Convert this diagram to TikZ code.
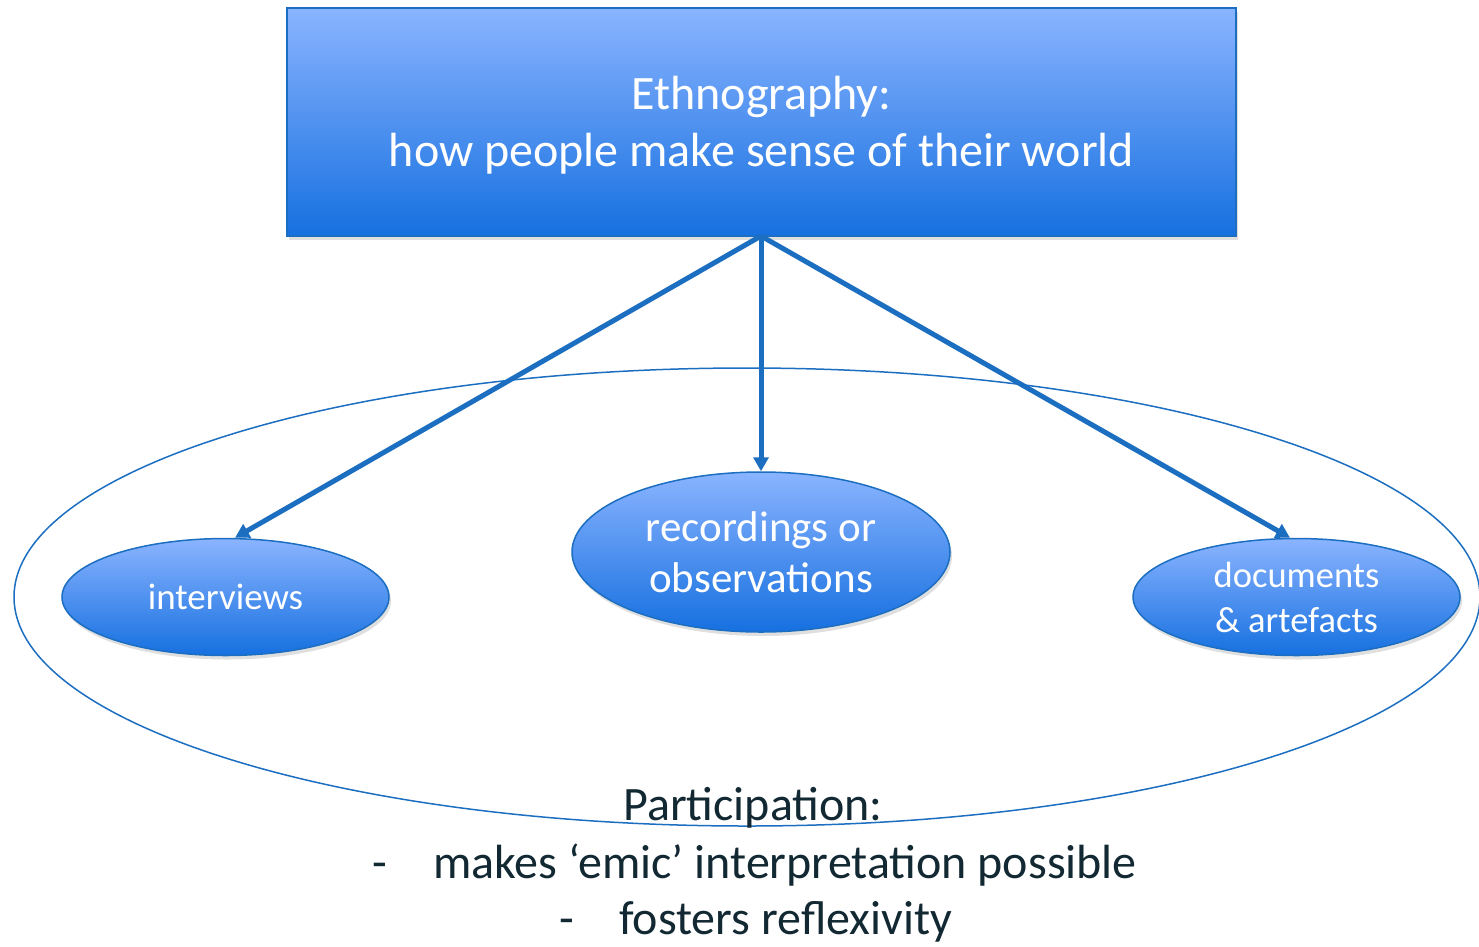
\documentclass[tikz,border=0pt]{standalone}
\usepackage{fontspec}
\setmainfont{Carlito}
\usetikzlibrary{arrows.meta,shapes.geometric,shadows}
\definecolor{edgeblue}{RGB}{28,110,192}
\definecolor{topblue}{RGB}{138,180,255}
\definecolor{botblue}{RGB}{22,112,224}
\definecolor{darktext}{RGB}{18,40,50}
\tikzset{
  bluefill/.style={draw=edgeblue, line width=1.5pt, top color=topblue, bottom color=botblue,
     drop shadow={opacity=0.25, shadow xshift=2pt, shadow yshift=-4pt}},
  titlebox/.style={bluefill, rectangle, minimum width=949pt, minimum height=228pt, inner sep=0pt},
  titletext/.style={text=white, font=\fontsize{48}{57}\selectfont, align=center},
  method/.style={bluefill, ellipse, inner sep=0pt, text=white, align=center},
  conn/.style={draw=edgeblue, line width=5pt, -{Triangle[length=14pt,width=15pt]}},
  outer/.style={draw=edgeblue, line width=1.5pt},
  bottomtext/.style={text=darktext, font=\fontsize{48}{57}\selectfont, inner sep=0pt}
}
\begin{document}
\begin{tikzpicture}[x=1pt,y=-1pt]
\useasboundingbox (0,0) rectangle (1479,946);
% outer ellipse
\draw[outer] (747,597) ellipse [x radius=733, y radius=229];
% title
\node[titlebox] (title) at (761.5,122) {};
\node[titletext] (titletext) at (761.5,125) {Ethnography:\\how people make sense of their world};
% methods
\node[method, minimum width=327pt, minimum height=117pt, font=\fontsize{37}{44}\selectfont] (interviews) at (225.5,597) {interviews};
\node[method, minimum width=378pt, minimum height=160pt, font=\fontsize{43}{51}\selectfont] (recordings) at (761,552) {recordings or\\observations};
\node[method, minimum width=327pt, minimum height=117pt, font=\fontsize{36.5}{45}\selectfont] (documents) at (1296.5,597) {documents\\\& artefacts};
% connectors
\coordinate (src) at (761,236);
\draw[conn] (src) -- (interviews.north -| 235,0);
\draw[conn] (src) -- (recordings.north);
\draw[conn] (src) -- (documents.north -| 1290,0);
% bottom text
\node[bottomtext, anchor=base] (part) at (753,820) {Participation:};
\node[bottomtext, anchor=base west] (dash1) at (372,878) {-};
\node[bottomtext, anchor=base west] (line1) at (433,878) {makes ‘emic’ interpretation possible};
\node[bottomtext, anchor=base west] (dash2) at (559,934) {-};
\node[bottomtext, anchor=base west] (line2) at (619,934) {fosters reflexivity};
\end{tikzpicture}
\end{document}
